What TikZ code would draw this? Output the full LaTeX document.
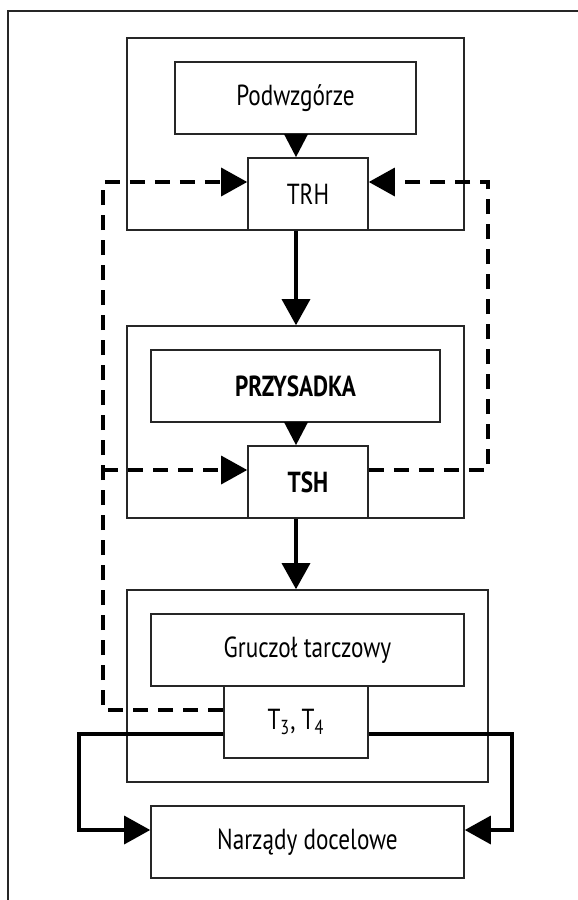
\documentclass[tikz,border=0pt]{standalone}
\usepackage{fontspec}
\setmainfont{PT Sans}[FakeStretch=0.8]
\usetikzlibrary{arrows.meta,positioning}
\begin{document}
\begin{tikzpicture}[x=0.5pt, y=-0.5pt,
        font=\fontsize{14.5}{17}\selectfont,
        box/.style = {draw=black!85, line width=0.8pt, rectangle, inner sep=0pt, fill=white},
        frame/.style = {box, minimum width=168.5pt, minimum height=96pt},
        inner/.style = {box, minimum height=36pt},
        hormone/.style = {box, minimum width=60pt, minimum height=36pt},
        flow/.style = {line width=1.6pt, -{Triangle[length=13pt, width=14pt]}},
        flowsmall/.style = {line width=1.6pt, -{Triangle[length=11.5pt, width=11.5pt]}},
        feedback/.style = {line width=1.6pt, dash pattern=on 7.5pt off 5pt, -{Triangle[length=13pt, width=14pt]}}]
        \useasboundingbox (0,0) rectangle (578,900);
        \draw[black!85, line width=0.6pt] (8,900) -- (8,11) -- (578,11);
        % axis and feedback columns
        \coordinate (axis) at (296,0);
        \coordinate (fbL) at (103,0);
        \coordinate (fbR) at (488,0);
        \coordinate (outL) at (79,0);
        \coordinate (outR) at (512,0);
        % hypothalamus
        \node[frame] (f1) at (295.5,134) {};
        \node[inner, minimum width=120.5pt] (podw) at (295.5,98) {Podwzgórze};
        \node[hormone] (trh) at (308,194) {TRH};
        % pituitary
        \node[frame] (f2) at (295.5,422) {};
        \node[inner, minimum width=144.5pt] (przys) at (295.5,386) {\bfseries PRZYSADKA};
        \node[hormone] (tsh) at (308,482) {\bfseries TSH};
        % thyroid
        \node[box, minimum width=180.5pt, minimum height=96pt] (f3) at (307.5,686) {};
        \node[inner, minimum width=156.5pt] (grucz) at (307.5,650) {Gruczoł tarczowy};
        \node[hormone, minimum width=72pt] (t34) at (296,722) {T\textsubscript{3}, T\textsubscript{4}};
        % targets
        \node[inner, minimum width=156.5pt] (narz) at (307.5,842) {Narządy docelowe};
        % levels of the side lines
        \coordinate (trhfb) at ([yshift=6pt]trh.center);
        \coordinate (tshfb) at ([yshift=6pt]tsh.center);
        \coordinate (t34fb) at ([yshift=6pt]t34.center);
        \coordinate (t34out) at ([yshift=-6pt]t34.center);
        \coordinate (narzin) at ([yshift=6pt]narz.center);
        % main axis
        \draw[flowsmall] (podw.south -| axis) -- (axis |- trh.north);
        \draw[flow] (axis |- trh.south) -- (axis |- f2.north);
        \draw[flowsmall] (przys.south -| axis) -- (axis |- tsh.north);
        \draw[flow] (axis |- tsh.south) -- (axis |- f3.north);
        % negative feedback
        \draw[feedback] (tshfb -| tsh.east) -- (fbR |- tshfb) -- (fbR |- trhfb) -- (trhfb -| trh.east);
        \draw[feedback] (t34fb -| t34.west) -- (fbL |- t34fb) -- (fbL |- trhfb) -- (trhfb -| trh.west);
        \draw[feedback] (fbL |- tshfb) -- (tshfb -| tsh.west);
        % hormones to target organs
        \draw[flow] (t34out -| t34.west) -- (outL |- t34out) -- (outL |- narzin) -- (narzin -| narz.west);
        \draw[flow] (t34out -| t34.east) -- (outR |- t34out) -- (outR |- narzin) -- (narzin -| narz.east);
    \end{tikzpicture}
\end{document}
